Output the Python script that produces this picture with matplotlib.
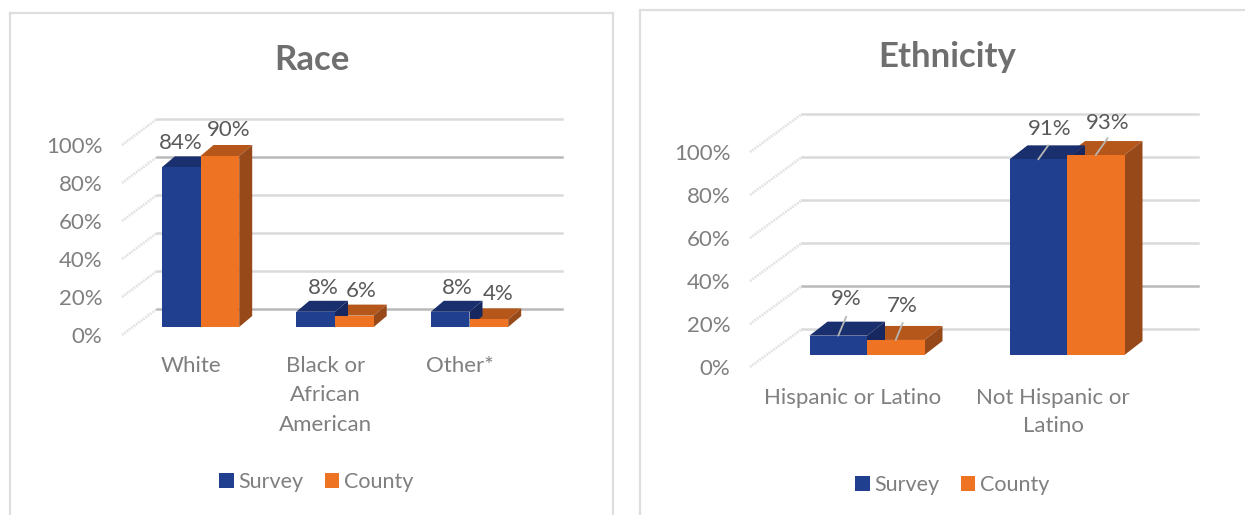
import matplotlib
matplotlib.use("Agg")
import matplotlib.pyplot as plt
from matplotlib.lines import Line2D

plt.rcParams['font.family'] = ['Lato', 'DejaVu Sans']

# ---- data ----
race_categories = ["White", "Black or\nAfrican\nAmerican", "Other*"]
race_survey = [84, 8, 8]
race_county = [90, 6, 4]
eth_categories = ["Hispanic or Latino", "Not Hispanic or\nLatino"]
eth_survey = [9, 91]
eth_county = [7, 93]
series_names = ["Survey", "County"]
y_ticks = [0, 20, 40, 60, 80, 100]
y_labels = ["0%", "20%", "40%", "60%", "80%", "100%"]

# ---- style ----
W, H = 1245, 515
BLUE = ("#203f8f", "#1a2f6e")
ORANGE = ("#ee7423", "#b5561a", "#98491a")
BLUE_SIDE = "#16285f"
TXT = "#7f7f7f"
VAL = "#595959"
TITLE = "#6f6f6f"

fig = plt.figure(figsize=(W / 100, H / 100), dpi=100, facecolor="white")


def fx(px):
    return px / W


def fy(py):
    return 1 - py / H


def frame(x0, y0, x1, y1):
    """Chart-area border, in figure pixels."""
    for xs, ys in (([x0, x0], [y1, y0]), ([x0, x1], [y0, y0]), ([x1, x1], [y0, y1])):
        fig.add_artist(Line2D([fx(v) for v in xs], [fy(v) for v in ys],
                              color="#dedede", lw=1.6, transform=fig.transFigure))


def panel(cfg, cats, survey, county):
    left, right = cfg["wall_left"], cfg["wall_right"]
    y0, y100 = cfg["y0"], cfg["y100"]
    ax = fig.add_axes([fx(left), fy(y0), (right - left) / W, (y0 - y100) / H])
    ax.patch.set_alpha(0)
    sp = cfg["spacing"]
    ax.set_xlim((left - cfg["x0"]) / sp, (right - cfg["x0"]) / sp)
    ax.set_ylim(0, 100)
    ppu = (y0 - y100) / 100
    for s in ax.spines.values():
        s.set_visible(False)

    # walls and gridlines
    bx = cfg["back"][0] / sp
    by = cfg["back"][1] / ppu
    xl = ax.get_xlim()[0]
    xr = (cfg["grid_right"] - cfg["x0"]) / sp
    for t in y_ticks:
        ax.plot([xl, xl + bx], [t, t + by], color="#e2e2e2", lw=1.9, ls=(0, (0.7, 0.4)),
                clip_on=False, zorder=1, solid_capstyle="butt")
        dark = t in cfg["dark"]
        ax.plot([xl + bx, xr], [t + by, t + by], color="#b9b9b9" if dark else "#dadada",
                lw=1.8, clip_on=False, zorder=1)

    # 3-D columns
    w = cfg["bar"] / sp
    sx = cfg["shift"][0] / sp
    sy = cfg["shift"][1] / ppu
    dx = cfg["depth"][0] / sp
    dy = cfg["depth"][1] / ppu
    xs = list(range(len(cats)))
    bars = {}
    for i in xs:
        for val, off, top, side, z in ((county[i], 0, ORANGE[1], ORANGE[2], 3),
                                       (survey[i], -w, BLUE[1], BLUE_SIDE, 4)):
            a = i + sx + off
            t = val + sy
            ax.fill([a, a + w, a + w + dx, a + dx], [t, t, t + dy, t + dy],
                    color=top, lw=0, zorder=z, clip_on=False)
            ax.fill([a + w, a + w + dx, a + w + dx, a + w], [sy, sy + dy, t + dy, t],
                    color=side, lw=0, zorder=z, clip_on=False)
    bars["County"] = ax.bar([i + sx for i in xs], county, width=w, bottom=sy, align="edge",
                            color=ORANGE[0], lw=0, zorder=5, clip_on=False)
    bars["Survey"] = ax.bar([i + sx - w for i in xs], survey, width=w, bottom=sy, align="edge",
                            color=BLUE[0], lw=0, zorder=6, clip_on=False)

    # axes text
    ax.set_yticks(y_ticks, y_labels, fontsize=16, color=TXT)
    ax.set_xticks(xs, cats, fontsize=16, color=TXT, linespacing=cfg["linesp"])
    ax.tick_params(axis="both", length=0)
    ax.tick_params(axis="y", pad=cfg["ypad"])
    ax.tick_params(axis="x", pad=cfg["xpad"])

    # value labels, placed relative to the column tops
    for k, (vals, sign) in enumerate(((survey, -1), (county, 1))):
        for i, v in enumerate(vals):
            ox, oy = cfg["label_off"][k][i]
            bar_x = i + sx + (sign - 1) / 2 * w + w / 2
            xy = (bar_x, v + sy)
            ax.annotate(f"{v}%", xy=xy, xytext=(ox, oy), textcoords="offset pixels",
                        ha="center", va="center", fontsize=16, color=VAL, zorder=8,
                        annotation_clip=False)
            if cfg["leaders"]:
                lx1, ly1 = cfg["leaders"][k][i]
                ax.annotate("", xy=(bar_x, v + sy), xytext=(lx1, ly1),
                            textcoords="offset pixels", xycoords="data",
                            arrowprops=dict(arrowstyle="-", color="#b5b5b5", lw=1.3,
                                            shrinkA=0, shrinkB=0,
                                            relpos=(0.5, 0.5)),
                            annotation_clip=False, zorder=9)

    ax.legend([bars["Survey"], bars["County"]], series_names, ncol=2,
              loc="center", bbox_to_anchor=(fx(cfg["leg_x"]), fy(cfg["leg_y"])),
              bbox_transform=fig.transFigure, frameon=False, fontsize=15.5,
              handlelength=0.68, handleheight=0.68, handletextpad=0.2,
              columnspacing=cfg["leg_cs"], labelcolor=TXT, borderpad=0)
    fig.text(fx(cfg["title_x"]), fy(cfg["title_y"]), cfg["title"], ha="center", va="center",
             fontsize=25, fontweight="bold", color=TITLE)
    return ax


frame(10, 13, 613, 520)
frame(640, 10, 1250, 520)

panel(dict(title="Race", title_x=312, title_y=60,
           wall_left=122, wall_right=562, grid_right=562, y0=335, y100=145,
           x0=191, spacing=134.5, bar=38.7, shift=(9.5, 8), depth=(13, 11), back=(35, 26),
           dark=(0, 80), linesp=1.6, ypad=14, xpad=15,
           label_off=[[(0, 24), (8, 24), (7, 24)], [(9, 26), (7, 25), (9, 25)]],
           leaders=None, leg_x=316, leg_y=482, leg_cs=1.0),
      race_categories, race_survey, race_county)

panel(dict(title="Ethnicity", title_x=947, title_y=57,
           wall_left=750, wall_right=1198, grid_right=1198, y0=367, y100=152,
           x0=853, spacing=200, bar=57.5, shift=(14, 12), depth=(18, 14), back=(52, 38),
           dark=(20,), linesp=1.52, ypad=14, xpad=15,
           label_off=[[(8, 37), (11, 30)], [(6, 34), (12, 32)]],
           leaders=[[(8, 19), (10, 14)], [(7, 17), (12, 17)]],
           leg_x=952, leg_y=485, leg_cs=1.0),
      eth_categories, eth_survey, eth_county)

fig.savefig("out.png", dpi=100)
